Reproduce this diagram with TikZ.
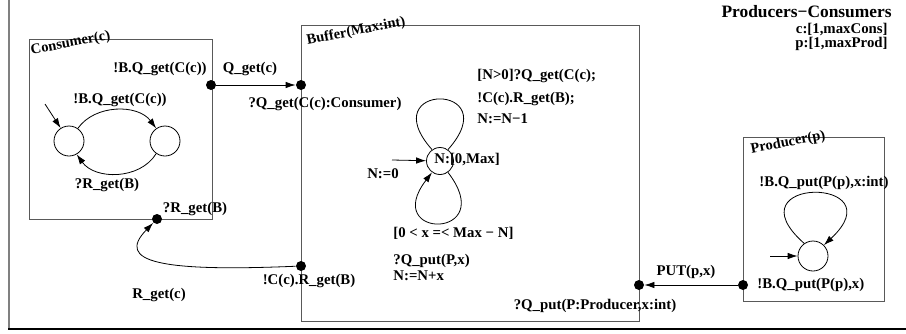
\documentclass[tikz,border=0pt]{standalone}
\usepackage{fontspec}
\setmainfont{Liberation Serif}
\usetikzlibrary{arrows.meta}

\begin{document}
\begin{tikzpicture}[x=1pt, y=-1pt, line width=0.8pt,
        every node/.style={font=\bfseries\fontsize{14.8}{17}\selectfont, inner sep=0pt},
        box/.style={draw=black!65, line width=0.9pt},
        title/.style={font=\bfseries\fontsize{14.5}{16}\selectfont, anchor=south west, rotate=11},
        port/.style={circle, fill=black, minimum size=10pt},
        loc/.style={circle, draw, minimum size=30pt},
        arr/.style={-{Latex[length=10pt,width=6.5pt]}}]
        \useasboundingbox (0,0) rectangle (906,333);

        % frame
        \draw[black!50, line width=2pt] (9,0) -- (9,329);
        \draw[line width=1.2pt] (8,329) -- (906,329);
        \node[anchor=east, font=\bfseries\fontsize{17.4}{19}\selectfont] (sys) at (892,12) {Producers−Consumers};
        \node[anchor=east] (crange) at (888,30) {c:[1,maxCons]};
        \node[anchor=east] (prange) at (888,44) {p:[1,maxProd]};

        % Consumer
        \draw[box] (29,39) rectangle (212,219);
        \node[title] (cname) at (32,58) {Consumer(c)};
        \node[loc] (cA) at (69,141) {};
        \node[loc] (cB) at (165,141) {};
        \coordinate (cinit) at (45,104);
        \draw[arr] (cinit) -- (cA);
        \draw[arr] (cA.55) .. controls (95,104) and (138,104) .. (cB.125);
        \draw[arr] (cB.-125) .. controls (140,180) and (95,180) .. (cA.-60);
        \node (cget) at (120,100) {!B.Q\_get(C(c))};
        \node (crecv) at (107,185) {?R\_get(B)};

        % Buffer
        \draw[box] (301,25) rectangle (639,321);
        \node[title] (bname) at (308,48) {Buffer(Max:int)};
        \node[loc, minimum size=27pt] (bst) at (440,161) {};
        \node[anchor=west] (bval) at (434,160) {N:[0,Max]};
        \coordinate (binit) at (392,160);
        \draw[arr] (binit) -- (bst);
        \node (bzero) at (383,174) {N:=0};
        \draw (bst.125) .. controls (372,82) and (508,82) .. (bst.55);
        \draw[arr] (bst.-55) .. controls (500,240) and (380,240) .. (bst.-125);
        \node[anchor=west] (bg1) at (477,76) {[N>0]?Q\_get(C(c);};
        \node[anchor=west] (bg2) at (477,99) {!C(c).R\_get(B);};
        \node[anchor=west] (bg3) at (477,119) {N:=N−1};
        \node[anchor=west] (bp1) at (393,233) {[0 < x =< Max − N]};
        \node[anchor=west] (bp2) at (393,261) {?Q\_put(P,x)};
        \node[anchor=west] (bp3) at (393,276) {N:=N+x};

        % Producer
        \draw[box] (743,137) rectangle (884,301);
        \node[title] (pname) at (752,157) {Producer(p)};
        \node[loc] (pst) at (813,256) {};
        \coordinate (pinit) at (770,256);
        \draw[arr] (pinit) -- (pst);
        \draw[arr] (pst.125) .. controls (728,176) and (898,176) .. (pst.45);
        \node (pput) at (824,183) {!B.Q\_put(P(p),x:int)};

        % ports
        \node[port] (cq) at (211,85) {};
        \node[port] (cr) at (157,219) {};
        \node[port] (bq) at (301,85) {};
        \node[port] (br) at (301,266) {};
        \node[port] (bp) at (639,285) {};
        \node[port] (pp) at (743,285) {};
        \node (cqlab) at (160,69) {!B.Q\_get(C(c))};
        \node (crlab) at (195,209) {?R\_get(B)};
        \node (bqlab) at (325,104) {?Q\_get(C(c):Consumer)};
        \node (brlab) at (309,281) {!C(c).R\_get(B)};
        \node (bplab) at (595,306) {?Q\_put(P:Producer,x:int)};
        \node[anchor=west] (pplab) at (757,285) {!B.Q\_put(P(p),x)};

        % Consumer -> Buffer
        \draw[arr] (cq) -- (bq);
        \node (qget) at (250,69) {Q\_get(c)};

        % Buffer -> Consumer
        \draw[arr] (br) .. controls (160,272) and (115,262) .. (cr);
        \node (rget) at (159,295) {R\_get(c)};

        % Producer -> Buffer
        \draw[arr] (pp) -- (bp);
        \node (put) at (686,272) {PUT(p,x)};
    \end{tikzpicture}
\end{document}
